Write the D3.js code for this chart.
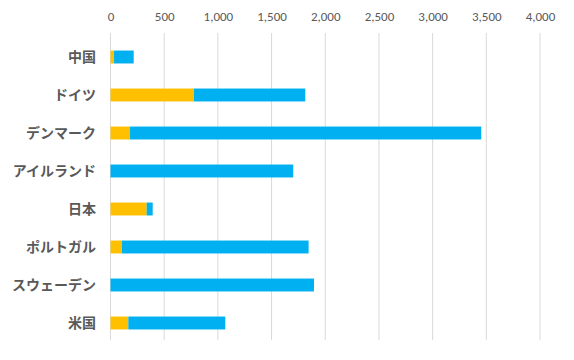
<!DOCTYPE html>
<html><head><meta charset="utf-8">
<script src="https://cdn.jsdelivr.net/npm/d3@7"></script>
<style>body{margin:0;background:#fff}</style>
</head><body>
<svg id="c" width="574" height="360"></svg>
<script>
const categories = ["中国","ドイツ","デンマーク","アイルランド","日本","ポルトガル","スウェーデン","米国"];
const seriesA = [33, 777, 182, 0, 337, 107, 0, 166];
const seriesB = [183, 1037, 3271, 1702, 56, 1738, 1895, 903];
const tickValues = [0,500,1000,1500,2000,2500,3000,3500,4000];
const colors = ["#FFC000", "#00B0F0"];

const svg = d3.select("#c");
const x = d3.scaleLinear().domain([0,4000]).range([110.5, 540]);
const y = d3.scaleBand().domain(categories).range([38, 342]).paddingInner(0.66).paddingOuter(0.33);

svg.append("g").selectAll("line").data(tickValues).join("line")
  .attr("x1", d=>x(d)).attr("x2", d=>x(d)).attr("y1", 33).attr("y2", 340)
  .attr("stroke", "#d9d9d9").attr("stroke-width", 1);

const axis = d3.axisTop(x).tickValues(tickValues).tickSize(0).tickFormat(d3.format(","));
const ag = svg.append("g").attr("transform","translate(0,24)").call(axis);
ag.select(".domain").remove();
ag.selectAll("text").attr("font-family","Calibri, Carlito, 'Liberation Sans', sans-serif")
  .attr("font-size", 13).attr("fill","#595959").attr("dy","0");

const rows = categories.map((c,i)=>({c, a: seriesA[i], b: seriesB[i]}));
const stack = d3.stack().keys(["a","b"])(rows);
svg.append("g").selectAll("g").data(stack).join("g").attr("fill",(d,i)=>colors[i])
  .selectAll("rect").data(d=>d).join("rect")
  .attr("x", d=>x(d[0])).attr("width", d=>Math.max(0, x(d[1])-x(d[0])))
  .attr("y", d=>y(d.data.c)).attr("height", y.bandwidth());

svg.append("g").selectAll("text").data(categories).join("text")
  .attr("x", 96).attr("y", d=>y(d)+y.bandwidth()/2).attr("dy","0.35em")
  .attr("text-anchor","end").attr("font-family","'Noto Sans CJK JP', sans-serif")
  .attr("font-size", 14).attr("font-weight","bold").attr("fill","#595959").text(d=>d);
</script>
</body></html>
